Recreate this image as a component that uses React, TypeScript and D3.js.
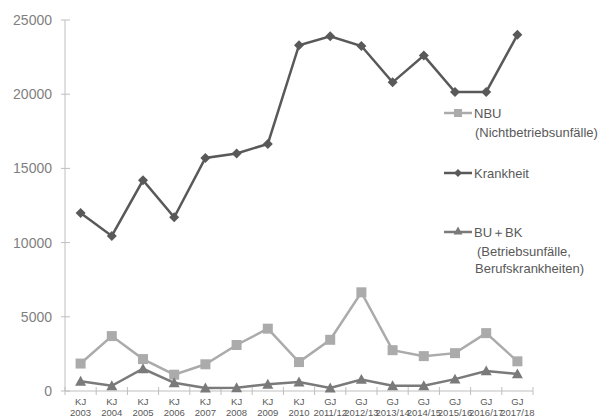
import React from "react";
import * as d3 from "d3";

const categories = [
  ["KJ", "2003"], ["KJ", "2004"], ["KJ", "2005"], ["KJ", "2006"], ["KJ", "2007"],
  ["KJ", "2008"], ["KJ", "2009"], ["KJ", "2010"], ["GJ", "2011/12"], ["GJ", "2012/13"],
  ["GJ", "2013/14"], ["GJ", "2014/15"], ["GJ", "2015/16"], ["GJ", "2016/17"], ["GJ", "2017/18"],
];
const krankheit = [12000, 10450, 14200, 11700, 15700, 16000, 16650, 23300, 23900, 23250, 20800, 22600, 20150, 20150, 24000];
const nbu = [1850, 3700, 2150, 1100, 1800, 3100, 4200, 1950, 3450, 6650, 2750, 2350, 2550, 3900, 2000];
const bubk = [650, 350, 1500, 550, 200, 220, 450, 600, 200, 780, 350, 350, 800, 1350, 1150];
const yTicks = [0, 5000, 10000, 15000, 20000, 25000];

const FONT = "'Liberation Sans', Arial, sans-serif";

export default function App() {
  const keys = categories.map((c) => c.join(" "));
  const x = d3.scaleBand<string>().domain(keys).range([65, 533]).padding(0);
  const y = d3.scaleLinear().domain([0, 25000]).range([391, 20]);
  const cx = (i: number) => (x(keys[i]) as number) + x.bandwidth() / 2;
  const line = d3.line<number>().x((_, i) => cx(i)).y((v) => y(v));

  const diamond = (px: number, py: number, r = 5) =>
    `M${px},${py - r}L${px + r},${py}L${px},${py + r}L${px - r},${py}Z`;
  const tri = (px: number, py: number, r = 5.5) =>
    `M${px},${py - r}L${px + r},${py + r * 0.8}L${px - r},${py + r * 0.8}Z`;

  const cK = "#595959";
  const cN = "#ababab";
  const cB = "#7a7a7a";
  const axisC = "#bfbfbf";

  const boundaries = keys.map((k) => x(k) as number).concat([533]);

  return (
    <svg width={603} height={419} style={{ position: "absolute", left: 0, top: 0, background: "#fff" }} fontFamily={FONT}>
      {/* y axis */}
      <line x1={65} x2={65} y1={20} y2={391} stroke={axisC} strokeWidth={1} />
      {yTicks.map((t) => (
        <g key={t}>
          <line x1={61} x2={70} y1={y(t)} y2={y(t)} stroke={axisC} />
          <text x={52} y={y(t)} dy="0.35em" textAnchor="end" fontSize={14} fill="#7f7f7f">{t}</text>
        </g>
      ))}
      {/* x axis */}
      <line x1={65} x2={533} y1={391} y2={391} stroke={axisC} />
      {boundaries.map((b, i) => (
        <line key={i} x1={b} x2={b} y1={387} y2={395} stroke={axisC} />
      ))}
      {categories.map((c, i) => (
        <g key={i} fontSize={9.5} fill="#595959" textAnchor="middle">
          <text x={cx(i)} y={405}>{c[0]}</text>
          <text x={cx(i)} y={416}>{c[1]}</text>
        </g>
      ))}

      {/* NBU */}
      <path d={line(nbu) as string} fill="none" stroke={cN} strokeWidth={2.5} />
      {nbu.map((v, i) => (
        <rect key={i} x={cx(i) - 5} y={y(v) - 5} width={10} height={10} fill={cN} />
      ))}
      {/* BU + BK */}
      <path d={line(bubk) as string} fill="none" stroke={cB} strokeWidth={2.5} />
      {bubk.map((v, i) => (
        <path key={i} d={tri(cx(i), y(v))} fill={cB} />
      ))}
      {/* Krankheit */}
      <path d={line(krankheit) as string} fill="none" stroke={cK} strokeWidth={2.5} />
      {krankheit.map((v, i) => (
        <path key={i} d={diamond(cx(i), y(v))} fill={cK} />
      ))}

      {/* legend */}
      <g fontSize={13} fill="#595959">
        <line x1={444} x2={472} y1={113} y2={113} stroke={cN} strokeWidth={2.5} />
        <rect x={454} y={109} width={8} height={8} fill={cN} />
        <text x={474} y={113} dy="0.35em">NBU</text>
        <text x={475} y={132} dy="0.35em">(Nichtbetriebsunfälle)</text>

        <line x1={444} x2={472} y1={173} y2={173} stroke={cK} strokeWidth={2.5} />
        <path d={diamond(458, 173, 4)} fill={cK} />
        <text x={474} y={173} dy="0.35em">Krankheit</text>

        <line x1={444} x2={472} y1={232} y2={232} stroke={cB} strokeWidth={2.5} />
        <path d={tri(458, 231, 4.5)} fill={cB} />
        <text x={474} y={232} dy="0.35em">BU＋BK</text>
        <text x={477} y={251} dy="0.35em">(Betriebsunfälle,</text>
        <text x={475} y={268} dy="0.35em">Berufskrankheiten)</text>
      </g>
    </svg>
  );
}
